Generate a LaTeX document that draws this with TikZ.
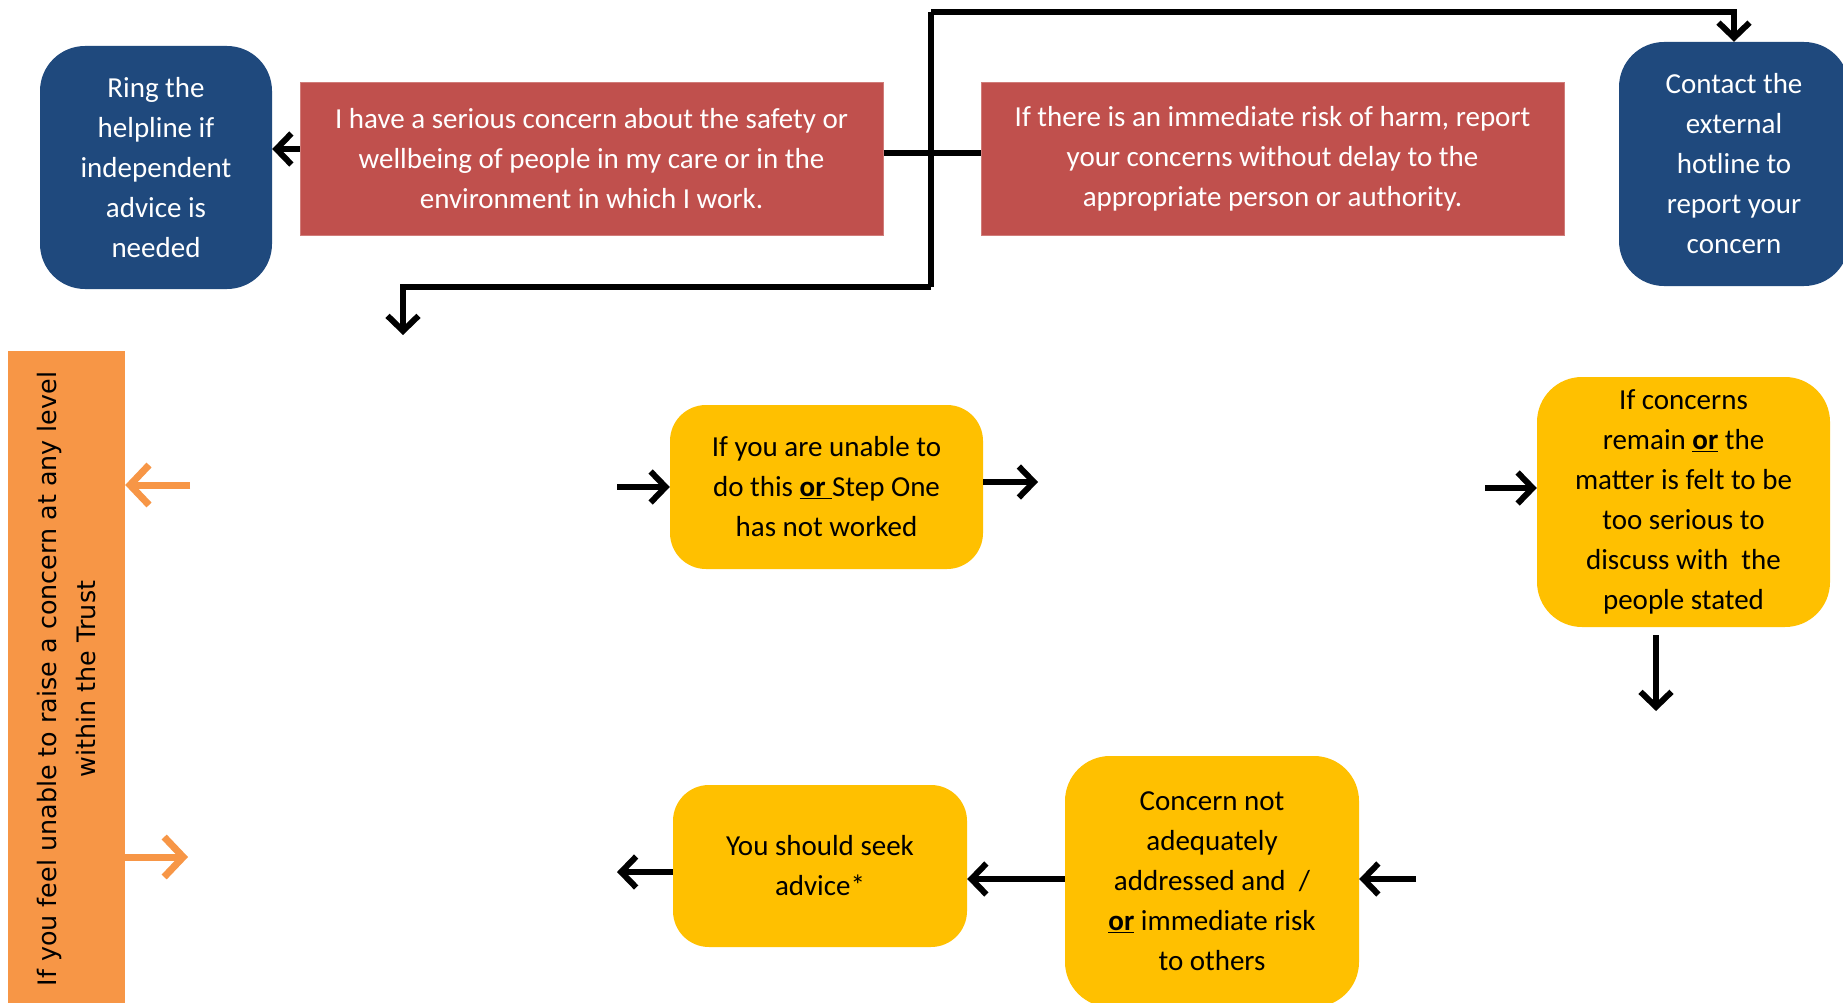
\documentclass[tikz,border=0pt]{standalone}
\usepackage{fontspec}
\setmainfont{Carlito}
\newfontfamily\vfont{DejaVu Sans}
\usetikzlibrary{arrows.meta}
\definecolor{cblue}{HTML}{1F497D}
\definecolor{cred}{HTML}{C0504D}
\definecolor{cyel}{HTML}{FFC000}
\definecolor{corg}{HTML}{F79646}
\begin{document}
\begin{tikzpicture}[x=1pt,y=-1pt,
  box/.style={inner sep=0pt, align=center, font=\fontsize{29}{40}\selectfont},
  bluebox/.style={box, fill=cblue, text=white, rounded corners=45pt},
  redbox/.style={box, fill=cred, draw=cred!75!white, line width=1pt, text=white},
  yelbox/.style={box, fill=cyel, text=black, rounded corners=36pt},
  conn/.style={line width=5.5pt, black},
  arr/.style={line width=6pt, black, -{Straight Barb[length=15pt,width=31pt]}},
  oarr/.style={line width=7pt, corg, -{Straight Barb[length=19pt,width=40pt]}},
]
\clip (0,0) rectangle (1843,1003);
\fill[white] (0,0) rectangle (1843,1003);

% nodes
\node[bluebox, minimum width=232pt, minimum height=243pt] (help) at (156,167.5)
  {Ring the\\helpline if\\independent\\advice is\\needed};
\node[redbox, minimum width=583pt, minimum height=152pt] (red1) at (591.5,159)
  {I have a serious concern about the safety or\\wellbeing of people in my care or in the\\environment in which I work.};
\node[redbox, minimum width=583pt, minimum height=152pt] (red2) at (1272.5,159)
  {If there is an immediate risk of harm, report\\your concerns without delay to the\\appropriate person or authority.};
\node[bluebox, minimum width=230pt, minimum height=244pt] (ext) at (1734,164)
  {Contact the\\external\\hotline to\\report your\\concern};
\node[fill=corg, minimum width=117pt, minimum height=660pt, inner sep=0pt] (org) at (66.5,681) {};
\node[rotate=90, align=center, inner sep=0pt, font=\vfont\fontsize{25.4}{39}\selectfont] (orgtxt) at (66.5,679)
  {If you feel unable to raise a concern at any level\\within the Trust};
\node[yelbox, minimum width=313pt, minimum height=164pt] (y1) at (826.5,487)
  {If you are unable to\\do this \underline{\textbf{or}\ }Step One\\has not worked};
\node[yelbox, rounded corners=45pt, minimum width=293pt, minimum height=250pt] (y2) at (1683.5,502)
  {If concerns\\remain \underline{\textbf{or}} the\\matter is felt to be\\too serious to\\discuss with\ \ the\\people stated};
\node[yelbox, rounded corners=45pt, minimum width=294pt, minimum height=251pt] (y3) at (1212,881.5)
  {Concern not\\adequately\\addressed and\ \ /\\\underline{\textbf{or}} immediate risk\\to others};
\node[yelbox, minimum width=294pt, minimum height=162pt] (y4) at (820,866)
  {You should seek\\advice*};

% top connectors
\coordinate (jt) at (931,12);
\coordinate (jb) at (931,287);
\coordinate (dn) at (403,335);
\coordinate (hA) at ([yshift=10pt]red1.west);
\draw[conn] ([yshift=6pt]red1.east) -- ([yshift=6pt]red2.west);
\draw[conn] (jt) -- (jb);
\draw[arr] (jt) -| (ext.north);
\draw[arr] (jb) -| (dn);
\draw[arr] (hA) -- (help.east |- hA);

% orange arrows
\coordinate (oa1) at (190,485);
\coordinate (oa2) at (188,857);
\draw[oarr] (oa1) -- (org.east |- oa1);
\draw[oarr] (org.east |- oa2) -- (oa2);

% yellow flow
\coordinate (i1) at (617,487);
\coordinate (o1) at (1038,482);
\coordinate (i2) at (1485,488);
\coordinate (d2s) at (1656,635);
\coordinate (d2e) at (1656,711);
\coordinate (i3) at (1416,879);
\coordinate (o4) at (617,872);
\draw[arr] (i1) -- (y1.west |- i1);
\draw[arr] (y1.east |- o1) -- (o1);
\draw[arr] (i2) -- (y2.west |- i2);
\draw[arr] (d2s) -- (d2e);
\draw[arr] (i3) -- (y3.east |- i3);
\draw[arr] (y3.west |- i3) -- (y4.east |- i3);
\draw[arr] (y4.west |- o4) -- (o4);
\end{tikzpicture}
\end{document}
